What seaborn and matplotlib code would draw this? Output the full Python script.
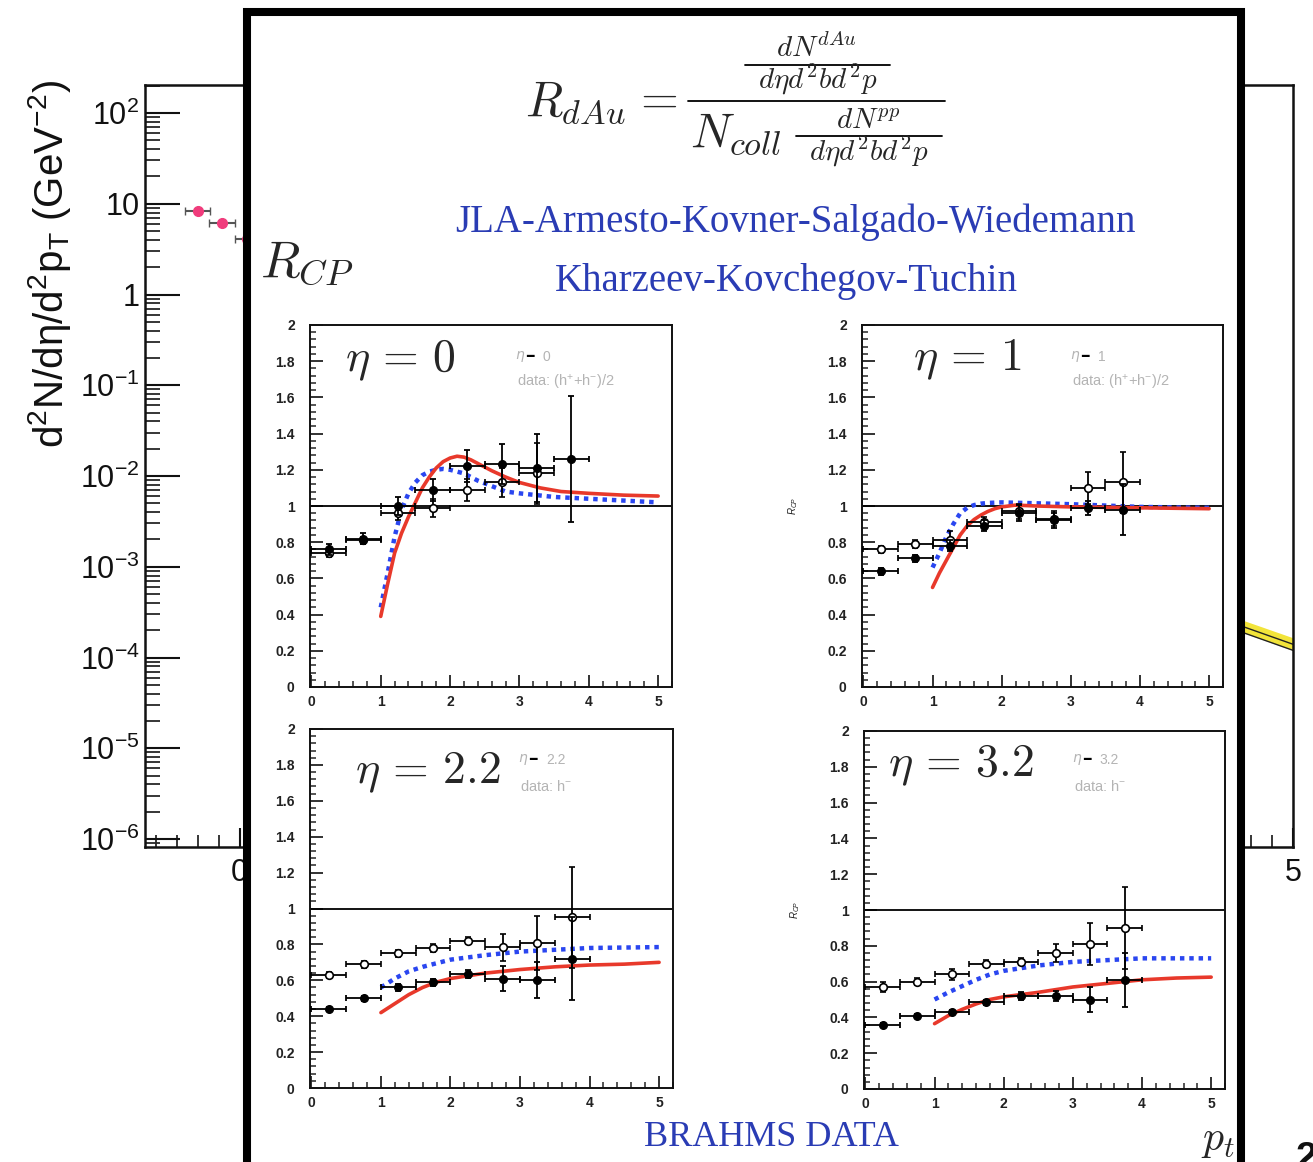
import numpy as np
import matplotlib
matplotlib.use("Agg")
import matplotlib.pyplot as plt
import seaborn as sns
from matplotlib.patches import Rectangle
from matplotlib.lines import Line2D
from matplotlib.ticker import MultipleLocator, LogLocator, NullFormatter, FuncFormatter

# ---------------------------------------------------------------- data
# background spectrum (d+Au, BRAHMS)
spec_pt = [-0.20, -0.085, 0.035]
spec_pt_err = [0.06, 0.06, 0.06]
spec_yield = [8.4, 6.2, 4.1]
band_pt = [4.5, 5.0]
band_mid = [3.6e-4, 1.4e-4]
band_lo = [3.1e-4, 1.2e-4]
band_hi = [4.2e-4, 1.65e-4]
spec_yticks = [1e-6, 1e-5, 1e-4, 1e-3, 1e-2, 1e-1, 1, 10, 100]
spec_ylabels = [r"$10^{-6}$", r"$10^{-5}$", r"$10^{-4}$", r"$10^{-3}$", r"$10^{-2}$",
                r"$10^{-1}$", "1", "10", r"$10^{2}$"]
spec_xticks = [0, 1, 2, 3, 4, 5]

# R_CP panels
pt_bins = [0.25, 0.75, 1.25, 1.75, 2.25, 2.75, 3.25, 3.75]
pt_halfwidth = 0.25

eta_labels = ["0", "1", "2.2", "3.2"]
data_labels = [r"data: (h$^{+}$+h$^{-}$)/2", r"data: (h$^{+}$+h$^{-}$)/2",
               r"data: h$^{-}$", r"data: h$^{-}$"]

central_y = [
    [0.76, 0.82, 1.00, 1.09, 1.22, 1.23, 1.21, 1.26],
    [0.64, 0.71, 0.78, 0.89, 0.96, 0.92, 0.99, 0.98],
    [0.44, 0.50, 0.56, 0.59, 0.635, 0.61, 0.60, 0.72],
    [0.36, 0.41, 0.43, 0.485, 0.52, 0.52, 0.50, 0.61],
]
central_err = [
    [0.03, 0.03, 0.05, 0.06, 0.09, 0.11, 0.19, 0.35],
    [0.02, 0.02, 0.03, 0.03, 0.045, 0.04, 0.04, 0.14],
    [0.01, 0.015, 0.02, 0.02, 0.02, 0.07, 0.10, 0.23],
    [0.01, 0.01, 0.01, 0.015, 0.02, 0.03, 0.07, 0.15],
]
semi_y = [
    [0.74, 0.81, 0.96, 0.99, 1.09, 1.13, 1.18],
    [0.76, 0.79, 0.81, 0.91, 0.97, 0.93, 1.10, 1.13],
    [0.63, 0.69, 0.75, 0.78, 0.82, 0.785, 0.81, 0.95],
    [0.57, 0.60, 0.64, 0.70, 0.71, 0.76, 0.81, 0.90],
]
semi_err = [
    [0.02, 0.02, 0.04, 0.05, 0.06, 0.08, 0.17],
    [0.02, 0.02, 0.05, 0.03, 0.04, 0.04, 0.09, 0.17],
    [0.015, 0.02, 0.02, 0.02, 0.02, 0.075, 0.15, 0.28],
    [0.03, 0.02, 0.03, 0.02, 0.02, 0.05, 0.12, 0.23],
]

# model curves: JLA-AKSW (red, solid) and KKT (blue, dotted)
red_x = [
    [1.0, 1.1, 1.2, 1.3, 1.4, 1.5, 1.6, 1.7, 1.8, 1.9, 2.0, 2.1, 2.2, 2.3, 2.4, 2.6, 2.8, 3.0, 3.3, 3.6, 4.0, 4.5, 5.0],
    [1.0, 1.1, 1.2, 1.3, 1.4, 1.5, 1.6, 1.7, 1.8, 1.9, 2.0, 2.2, 2.5, 3.0, 4.0, 5.0],
    [1.0, 1.2, 1.4, 1.6, 1.8, 2.0, 2.5, 3.0, 3.5, 4.0, 4.5, 5.0],
    [1.0, 1.2, 1.4, 1.6, 1.8, 2.0, 2.5, 3.0, 3.5, 4.0, 4.5, 5.0],
]
red_y = [
    [0.39, 0.57, 0.74, 0.85, 0.94, 1.02, 1.10, 1.16, 1.21, 1.245, 1.265, 1.275, 1.27, 1.255, 1.235, 1.195, 1.16, 1.13, 1.10, 1.08, 1.07, 1.06, 1.055],
    [0.55, 0.63, 0.70, 0.77, 0.84, 0.89, 0.925, 0.95, 0.97, 0.985, 0.995, 1.005, 1.0, 0.995, 0.99, 0.985],
    [0.42, 0.47, 0.52, 0.56, 0.59, 0.61, 0.64, 0.66, 0.675, 0.685, 0.69, 0.70],
    [0.365, 0.41, 0.445, 0.475, 0.50, 0.515, 0.54, 0.57, 0.59, 0.61, 0.62, 0.625],
]
blue_x = [
    [1.0, 1.1, 1.2, 1.3, 1.4, 1.5, 1.6, 1.7, 1.8, 1.9, 2.0, 2.2, 2.4, 2.6, 2.8, 3.0, 3.5, 4.0, 4.5, 5.0],
    [1.0, 1.1, 1.2, 1.3, 1.4, 1.5, 1.6, 1.7, 1.8, 2.0, 2.5, 3.0, 4.0, 5.0],
    [1.0, 1.2, 1.4, 1.6, 1.8, 2.0, 2.5, 3.0, 3.5, 4.0, 5.0],
    [1.0, 1.2, 1.4, 1.6, 1.8, 2.0, 2.5, 3.0, 3.5, 4.0, 5.0],
]
blue_y = [
    [0.44, 0.63, 0.83, 0.98, 1.07, 1.13, 1.17, 1.19, 1.20, 1.205, 1.20, 1.18, 1.14, 1.11, 1.08, 1.07, 1.05, 1.04, 1.03, 1.02],
    [0.66, 0.74, 0.83, 0.90, 0.96, 0.99, 1.005, 1.013, 1.017, 1.02, 1.015, 1.01, 0.995, 0.99],
    [0.56, 0.61, 0.65, 0.675, 0.695, 0.715, 0.74, 0.76, 0.77, 0.78, 0.785],
    [0.50, 0.54, 0.575, 0.61, 0.64, 0.66, 0.69, 0.71, 0.72, 0.73, 0.73],
]

# ---------------------------------------------------------------- style
W, H = 1313, 1162
sns.set_theme(style="white")
plt.rcParams["font.family"] = ["Liberation Sans", "DejaVu Sans"]
plt.rcParams["mathtext.fontset"] = "custom"
plt.rcParams["mathtext.rm"] = "Liberation Sans"
plt.rcParams["mathtext.it"] = "Liberation Sans:italic"
plt.rcParams["mathtext.bf"] = "Liberation Sans:bold"

PINK = "#f03c7c"
RED = "#e8392b"
BLUE = "#2a46f0"
TXT_BLUE = "#2a3cb4"
GRAY = "#b4b4b4"


def rect(l, t, r, b):
    return [l / W, 1 - b / H, (r - l) / W, (b - t) / H]


def fx(px):
    return px / W


def fy(py):
    return 1 - py / H


fig = plt.figure(figsize=(W / 100, H / 100), dpi=100)
fig.patch.set_facecolor("white")

# ---------------------------------------------------------------- background spectrum
bg = fig.add_axes(rect(145, 85, 1293, 847))
bg.set_zorder(0)
bg.set_yscale("log")
bg.set_xlim(-0.45, 5.0)
bg.set_ylim(10 ** -6.088, 10 ** 2.309)
bg.fill_between(band_pt, band_lo, band_hi, color="#f2e43a", lw=0)
bg.plot(band_pt, band_lo, color="#222222", lw=1)
bg.plot(band_pt, band_mid, color="#222222", lw=1)
bg.errorbar(spec_pt, spec_yield, xerr=spec_pt_err, fmt="o", color=PINK, ms=7,
            ecolor="#555555", elinewidth=1.5, capsize=3)
bg.set_yticks(spec_yticks, labels=spec_ylabels)
bg.yaxis.set_minor_locator(LogLocator(base=10, subs=np.arange(2, 10), numticks=20))
bg.yaxis.set_minor_formatter(NullFormatter())
bg.set_xticks(spec_xticks, labels=[str(v) for v in spec_xticks])
bg.xaxis.set_minor_locator(MultipleLocator(0.1))
bg.tick_params(axis="y", which="major", direction="in", length=25, width=1.5,
               labelsize=22, pad=4, colors="#111111", left=True)
bg.tick_params(axis="y", which="minor", direction="in", length=11, width=1.3, left=True)
bg.tick_params(axis="x", which="major", direction="in", length=14, width=1.5,
               labelsize=22, pad=8, colors="#111111", bottom=True)
bg.tick_params(axis="x", which="minor", direction="in", length=9, width=1.3, bottom=True)
for s in bg.spines.values():
    s.set_linewidth(1.8)
    s.set_color("#111111")
fig.text(fx(50), fy(80), r"d$^{2}$N/dη/d$^{2}$p$_{\rm T}$ (GeV$^{-2}$)",
         rotation=90, ha="center", va="top", fontsize=29, color="#111111")
fig.text(fx(1296), fy(1141), "2", ha="left", va="top", fontsize=28,
         fontweight="bold", color="#111111")

# ---------------------------------------------------------------- overlay sheet
sheet = Rectangle((fx(246.5), -0.05), (1241 - 246.5) / W, 1.05 - 12 / H,
                  transform=fig.transFigure, facecolor="white", edgecolor="black",
                  lw=5.8, zorder=5)
fig.add_artist(sheet)


# R_dAu definition, set piece by piece
def formula_text(px, py, s, size, ha="center"):
    fig.text(fx(px), fy(py), s, ha=ha, va="baseline", fontsize=size,
             math_fontfamily="cm", zorder=11)


def formula_bar(x0, x1, py):
    fig.add_artist(Line2D([fx(x0), fx(x1)], [fy(py), fy(py)], transform=fig.transFigure,
                          color="black", lw=1.3, zorder=11))


formula_text(525, 116, r"$R_{dAu}$", 35, ha="left")
formula_text(655, 113, r"$=$", 35)
formula_bar(688, 945, 101)
formula_text(816, 57, r"$dN^{dAu}$", 21)
formula_bar(745, 890, 65)
formula_text(818, 88, r"$d\eta d^{2}bd^{2}p$", 21)
formula_text(690, 147, r"$N_{coll}$", 35, ha="left")
formula_text(868, 129, r"$dN^{pp}$", 21)
formula_bar(796, 942, 136)
formula_text(869, 160, r"$d\eta d^{2}bd^{2}p$", 21)

fig.text(fx(260), fy(263), r"$R_{CP}$", ha="left", va="center", fontsize=37,
         math_fontfamily="cm", zorder=11)
fig.text(fx(795), fy(222), "JLA-Armesto-Kovner-Salgado-Wiedemann", ha="center",
         va="center", fontsize=28, family="Liberation Serif", color=TXT_BLUE, zorder=11)
fig.text(fx(786), fy(282), "Kharzeev-Kovchegov-Tuchin", ha="center",
         va="center", fontsize=28, family="Liberation Serif", color=TXT_BLUE, zorder=11)
fig.text(fx(771), fy(1138), "BRAHMS DATA", ha="center", va="center",
         fontsize=26, family="Liberation Serif", color=TXT_BLUE, zorder=11)
fig.text(fx(1218), fy(1140), r"$p_t$", ha="center", va="center", fontsize=30,
         math_fontfamily="cm", zorder=11)

# ---------------------------------------------------------------- R_CP panels
panel_rects = [rect(310, 325, 672, 687), rect(862, 325, 1223, 687),
               rect(310, 729, 673, 1088), rect(864, 731, 1225, 1089)]
big_label_pos = [(0.097, 0.903), (0.141, 0.903), (0.124, 0.880), (0.066, 0.905)]
small_label_pos = [(0.566, 0.912, 0.842), (0.576, 0.912, 0.842),
                   (0.573, 0.914, 0.841), (0.576, 0.919, 0.846)]

for i in range(4):
    ax = fig.add_axes(panel_rects[i])
    ax.set_zorder(10)
    ax.set_facecolor("white")
    ax.set_xlim(-0.02, 5.2)
    ax.set_ylim(0, 2)
    ax.axhline(1, color="black", lw=1.3, zorder=1)

    sns.lineplot(x=blue_x[i], y=blue_y[i], ax=ax, color=BLUE, lw=3.2,
                 linestyle=(0, (1, 1.1)), zorder=2)
    sns.lineplot(x=red_x[i], y=red_y[i], ax=ax, color=RED, lw=2.6, zorder=3)

    n_semi = len(semi_y[i])
    ax.errorbar(pt_bins[:n_semi], semi_y[i], xerr=pt_halfwidth, yerr=semi_err[i],
                fmt="o", mfc="white", mec="black", mew=1.2, ms=5.5, ecolor="black",
                elinewidth=1.3, capsize=2.5, capthick=1.3, zorder=4)
    ax.errorbar(pt_bins, central_y[i], xerr=pt_halfwidth, yerr=central_err[i],
                fmt="o", mfc="black", mec="black", ms=5.5, ecolor="black",
                elinewidth=1.3, capsize=2.5, capthick=1.3, zorder=5)

    ax.xaxis.set_major_locator(MultipleLocator(1))
    ax.xaxis.set_minor_locator(MultipleLocator(0.2))
    ax.yaxis.set_major_locator(MultipleLocator(0.2))
    ax.yaxis.set_minor_locator(MultipleLocator(0.04))
    ax.yaxis.set_major_formatter(FuncFormatter(lambda v, p: f"{v:g}"))
    ax.xaxis.set_major_formatter(FuncFormatter(lambda v, p: f"{v:g}"))
    ax.tick_params(which="major", direction="in", length=9, width=1.3, labelsize=10,
                   colors="#222222", left=True, bottom=True)
    ax.tick_params(which="minor", direction="in", length=4.5, width=1.1,
                   left=True, bottom=True)
    ax.tick_params(axis="y", which="major", pad=11)
    ax.tick_params(axis="x", which="major", pad=6)
    for lab in ax.get_xticklabels() + ax.get_yticklabels():
        lab.set_fontweight("bold")
    for s in ax.spines.values():
        s.set_linewidth(1.4)
        s.set_color("#111111")
    ax.set_xlabel("")
    ax.set_ylabel("")

    bx, by = big_label_pos[i]
    ax.text(bx, by, rf"$\eta\,=\,{eta_labels[i]}$", transform=ax.transAxes,
            ha="left", va="center", fontsize=33, math_fontfamily="cm", zorder=6)

    sx, sy1, sy2 = small_label_pos[i]
    ax.annotate(r"$\eta$", xy=(sx, sy1), xycoords="axes fraction", ha="left",
                va="center", fontsize=10, color=GRAY, math_fontfamily="dejavusans")
    ax.annotate("\u2501", xy=(sx, sy1), xycoords="axes fraction", xytext=(8, 0),
                textcoords="offset points", ha="left", va="center", fontsize=9,
                color="black", family="DejaVu Sans")
    ax.annotate(eta_labels[i], xy=(sx, sy1), xycoords="axes fraction", xytext=(20, 0),
                textcoords="offset points", ha="left", va="center", fontsize=10,
                color=GRAY)
    ax.text(sx + 0.005, sy2, data_labels[i], transform=ax.transAxes, ha="left",
            va="center", fontsize=10.5, color=GRAY)

    if i in (1, 3):
        ax.text(-0.19, 0.5, r"$R_{CP}$", transform=ax.transAxes, rotation=90,
                ha="center", va="center", fontsize=7, color="#222222")

fig.savefig("out.png", dpi=100)
